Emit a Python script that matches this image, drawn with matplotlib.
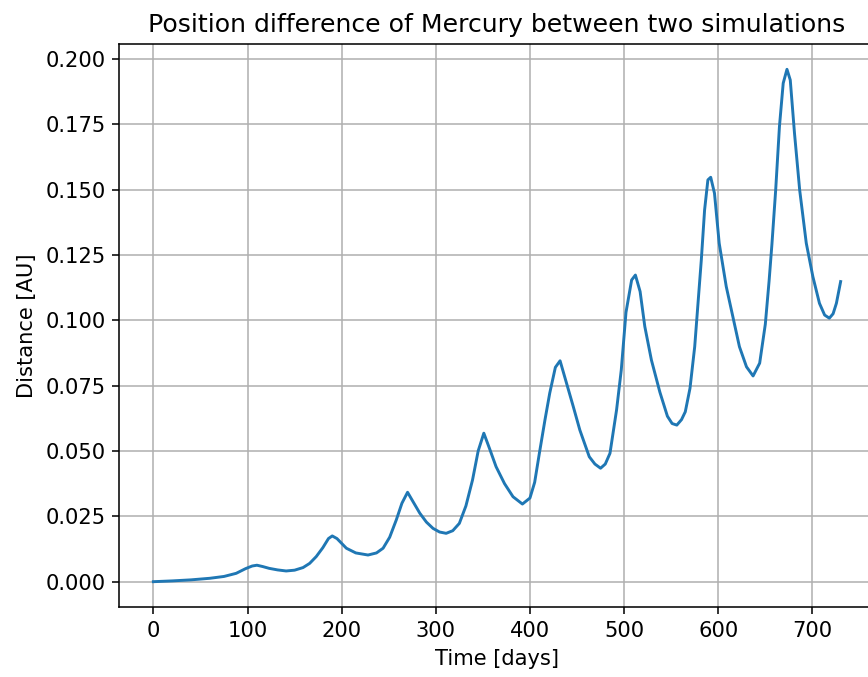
import matplotlib
matplotlib.use("Agg")
import matplotlib.pyplot as plt

# Time [days] and distance [AU]
time_days = [
    0, 20, 40, 60, 75, 88, 98, 105, 110, 116, 123, 132, 141, 150, 159, 166, 173, 180, 186, 190,
    195, 205, 215, 228, 237, 244, 251, 258, 264, 270, 276, 283, 290, 297, 304, 311, 318, 325,
    332, 339, 345, 351, 357, 364, 373, 382, 392, 400, 405, 410, 416, 421, 427, 432, 438, 446,
    453, 463, 469, 475, 480, 485, 492, 497, 502, 508, 512, 517, 522, 529, 538, 546, 551, 556,
    561, 565, 570, 575, 578.5, 582, 585.5, 589, 592, 596, 601, 608.5, 615.5, 622.5, 630, 637,
    644, 650, 654, 657, 661, 665, 669, 673, 676.5, 681, 686.5, 693.5, 700.5, 707.5, 713, 718,
    722, 725.5, 730,
]
distance_au = [
    0.0000, 0.0003, 0.0007, 0.0013, 0.0020, 0.0032, 0.0050, 0.0060, 0.0063, 0.0058, 0.0051,
    0.0045, 0.0041, 0.0044, 0.0054, 0.0070, 0.0096, 0.0130, 0.0165, 0.0175, 0.0165, 0.0128,
    0.0110, 0.0102, 0.0110, 0.0128, 0.0170, 0.0236, 0.0300, 0.0342, 0.0305, 0.0262, 0.0228,
    0.0204, 0.0190, 0.0185, 0.0195, 0.0223, 0.0290, 0.0389, 0.0500, 0.0568, 0.0510, 0.0440,
    0.0375, 0.0325, 0.0297, 0.0320, 0.0380, 0.0491, 0.0620, 0.0721, 0.0820, 0.0845, 0.0770,
    0.0670, 0.0580, 0.0478, 0.0450, 0.0434, 0.0450, 0.0491, 0.0657, 0.0810, 0.1030, 0.1154,
    0.1173, 0.1110, 0.0976, 0.0848, 0.0725, 0.0633, 0.0605, 0.0599, 0.0620, 0.0650, 0.0740,
    0.0899, 0.1065, 0.1230, 0.1422, 0.1537, 0.1547, 0.1486, 0.1295, 0.1129, 0.1014, 0.0899,
    0.0822, 0.0787, 0.0836, 0.0985, 0.1150, 0.1290, 0.1498, 0.1741, 0.1907, 0.1960, 0.1919,
    0.1715, 0.1498, 0.1295, 0.1167, 0.1065, 0.1020, 0.1008, 0.1025, 0.1065, 0.1148,
]

plt.rcParams["font.size"] = 10.8

fig = plt.figure(figsize=(6.2, 677 / 140), dpi=140)
# the reference is cropped on the right, so the axes run past the figure edge
ax = fig.add_axes([119 / 868, (677 - 607.3) / 677, 756 / 868, 563.6 / 677])
ax.plot(time_days, distance_au)
ax.set_xlabel("Time [days]")
ax.set_ylabel("Distance [AU]")
ax.set_title("Position difference of Mercury between two simulations", fontsize=12.95)
ax.grid(True)

fig.savefig("out.png", dpi=140)
